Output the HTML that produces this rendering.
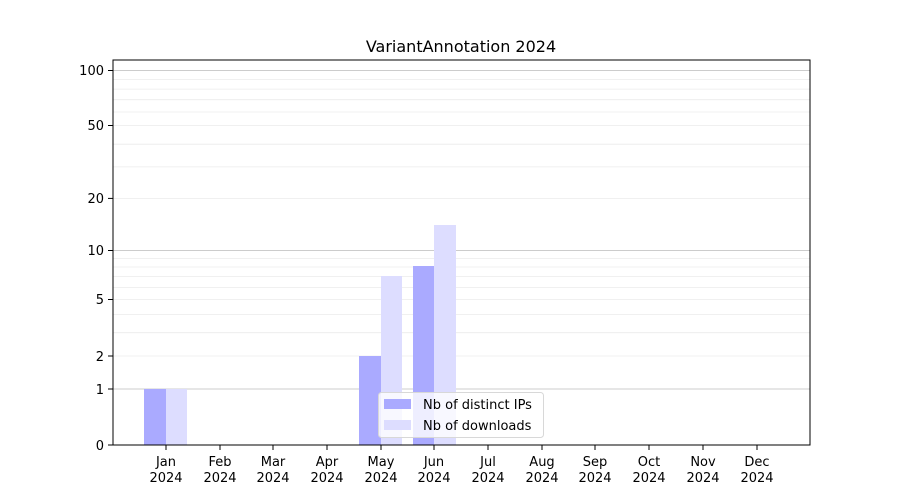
<!DOCTYPE html>
<html><head><meta charset="utf-8"><style>body{margin:0;background:#fff}svg{display:block}text{font-family:"DejaVu Sans","Liberation Sans",sans-serif;fill:#000}</style></head><body>
<svg width="900" height="500" xmlns="http://www.w3.org/2000/svg">
<g stroke="#ebebeb" stroke-width="0.8">
<line x1="113" x2="810" y1="356" y2="356"/><line x1="113" x2="810" y1="332.7" y2="332.7"/><line x1="113" x2="810" y1="314.6" y2="314.6"/><line x1="113" x2="810" y1="299.5" y2="299.5"/><line x1="113" x2="810" y1="287.4" y2="287.4"/><line x1="113" x2="810" y1="276.6" y2="276.6"/><line x1="113" x2="810" y1="267" y2="267"/><line x1="113" x2="810" y1="258.5" y2="258.5"/>
<line x1="113" x2="810" y1="198.4" y2="198.4"/><line x1="113" x2="810" y1="166.9" y2="166.9"/><line x1="113" x2="810" y1="144.2" y2="144.2"/><line x1="113" x2="810" y1="125.5" y2="125.5"/><line x1="113" x2="810" y1="112" y2="112"/><line x1="113" x2="810" y1="99.7" y2="99.7"/><line x1="113" x2="810" y1="89.1" y2="89.1"/><line x1="113" x2="810" y1="79.6" y2="79.6"/>
</g>
<g stroke="#cccccc" stroke-width="1">
<line x1="113" x2="810" y1="389" y2="389"/><line x1="113" x2="810" y1="250.5" y2="250.5"/><line x1="113" x2="810" y1="70.5" y2="70.5"/>
</g>
<g fill="#aaaaff">
<rect x="144" y="389" width="22" height="56"/><rect x="359" y="356" width="22" height="89"/><rect x="413" y="266" width="21" height="179"/>
</g>
<g fill="#ddddff">
<rect x="166" y="389" width="21" height="56"/><rect x="381" y="276" width="21" height="169"/><rect x="434" y="225" width="22" height="220"/>
</g>
<rect x="113" y="60" width="697" height="385" fill="none" stroke="#000" stroke-width="1"/>
<g stroke="#000"><line x1="108" x2="113" y1="445" y2="445"/><line x1="108" x2="113" y1="389" y2="389"/><line x1="108" x2="113" y1="356" y2="356"/><line x1="108" x2="113" y1="299.5" y2="299.5"/><line x1="108" x2="113" y1="250.5" y2="250.5"/><line x1="108" x2="113" y1="198.4" y2="198.4"/><line x1="108" x2="113" y1="125.5" y2="125.5"/><line x1="108" x2="113" y1="70.5" y2="70.5"/></g>
<g font-size="13" text-anchor="end">
<text x="104" y="450">0</text><text x="104" y="394">1</text><text x="104" y="361">2</text><text x="104" y="304">5</text><text x="104" y="255">10</text><text x="104" y="203">20</text><text x="104" y="130">50</text><text x="104" y="75">100</text>
</g>
<g stroke="#000">
<line x1="166" x2="166" y1="445" y2="450"/><line x1="220" x2="220" y1="445" y2="450"/><line x1="273" x2="273" y1="445" y2="450"/><line x1="327" x2="327" y1="445" y2="450"/><line x1="381" x2="381" y1="445" y2="450"/><line x1="434" x2="434" y1="445" y2="450"/><line x1="488" x2="488" y1="445" y2="450"/><line x1="542" x2="542" y1="445" y2="450"/><line x1="595" x2="595" y1="445" y2="450"/><line x1="649" x2="649" y1="445" y2="450"/><line x1="703" x2="703" y1="445" y2="450"/><line x1="757" x2="757" y1="445" y2="450"/>
</g>
<g font-size="13" text-anchor="middle">
<text x="166" y="466">Jan</text><text x="220" y="466">Feb</text><text x="273" y="466">Mar</text><text x="327" y="466">Apr</text><text x="381" y="466">May</text><text x="434" y="466">Jun</text><text x="488" y="466">Jul</text><text x="542" y="466">Aug</text><text x="595" y="466">Sep</text><text x="649" y="466">Oct</text><text x="703" y="466">Nov</text><text x="757" y="466">Dec</text>
<text x="166" y="482">2024</text><text x="220" y="482">2024</text><text x="273" y="482">2024</text><text x="327" y="482">2024</text><text x="381" y="482">2024</text><text x="434" y="482">2024</text><text x="488" y="482">2024</text><text x="542" y="482">2024</text><text x="595" y="482">2024</text><text x="649" y="482">2024</text><text x="703" y="482">2024</text><text x="757" y="482">2024</text>
<text x="461" y="52" font-size="16">VariantAnnotation 2024</text>
</g>
<rect x="378.5" y="392.5" width="165" height="45" rx="3" fill="#fff" fill-opacity="0.8" stroke="#d8d8d8"/>
<rect x="384" y="399" width="27" height="10" fill="#aaaaff"/>
<rect x="384" y="420" width="27" height="10" fill="#ddddff"/>
<text x="423" y="409" font-size="13">Nb of distinct IPs</text>
<text x="423" y="430" font-size="13">Nb of downloads</text>
</svg>
</body></html>
